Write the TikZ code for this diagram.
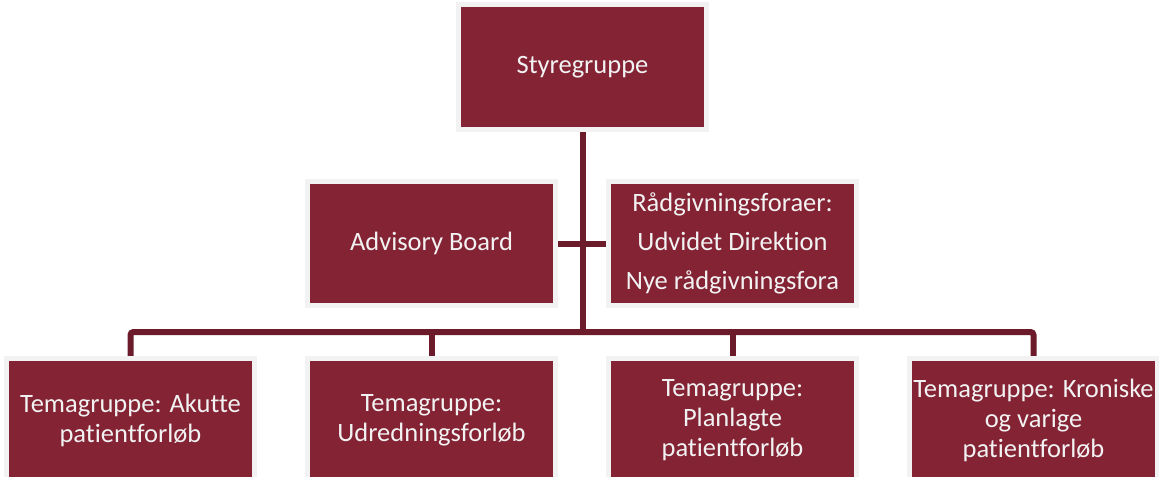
\documentclass[tikz,border=0pt]{standalone}
\usepackage{fontspec}
\setmainfont{Carlito}[Ligatures={NoCommon}]
\usepackage{xcolor}
\usetikzlibrary{positioning, backgrounds}

\definecolor{boxred}{RGB}{131,35,52}
\definecolor{linkred}{RGB}{107,27,42}
\definecolor{rimgray}{RGB}{241,242,241}

\begin{document}
\begin{tikzpicture}[
  x=0.5pt, y=-0.5pt,
  node distance=26.5pt and 26.5pt,
  block/.style={
    rectangle,
    draw=rimgray,
    line width=2.5pt,
    fill=boxred,
    text=white!95!black,
    align=center,
    minimum width=124pt,
    minimum height=62pt,
    inner sep=0pt,
    outer sep=0pt,
    font=\fontsize{13.25}{15}\selectfont
  },
  link/.style={draw=linkred, line width=3pt, rounded corners=1.5pt}
]
  \useasboundingbox (0,0) rectangle (1159,476);
  \clip (0,0) rectangle (1159,476);

  % Nodes
  \node (top) [block, minimum height=62.5pt] at (582.5,67) {Styregruppe};
  \node (adv) [block, below=26pt of top, xshift=-75.5pt] {Advisory Board};
  \node (raad) [block, right=of adv, font=\fontsize{13.25}{19.5}\selectfont]
    {Rådgivningsforaer:\\ Udvidet Direktion\\ Nye rådgivningsfora};

  \node (udr) [block, below=of adv]   {Temagruppe:\\ Udredningsforløb};
  \node (aku) [block, left=of udr]    {Temagruppe: Akutte\\ patientforløb};
  \node (plan) [block, right=of udr]  {Temagruppe:\\ Planlagte\\ patientforløb};
  \node (kron) [block, right=of plan] {Temagruppe: Kroniske\\ og varige\\ patientforløb};

  \coordinate (bus) at (582.5,332);

  % Connectors
  \begin{scope}[on background layer]
    \draw [link] (top.south) -- (bus);
    \draw [link] (adv.east) -- (raad.west);
    \draw [link] (aku.north) |- (bus) -| (kron.north);
    \draw [link] (udr.north) -- (udr.north |- bus);
    \draw [link] (plan.north) -- (plan.north |- bus);
  \end{scope}

\end{tikzpicture}
\end{document}
